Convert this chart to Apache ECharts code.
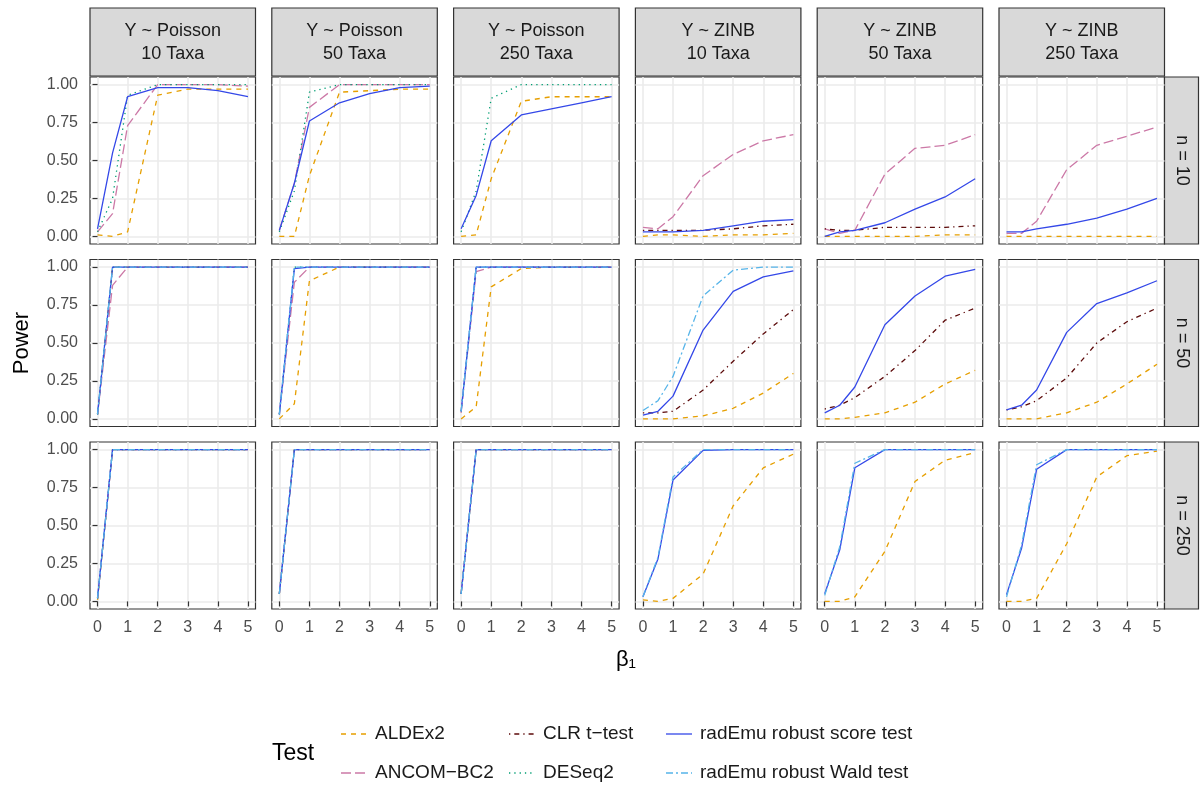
<!DOCTYPE html>
<html>
<head>
<meta charset="utf-8">
<script src="https://cdn.jsdelivr.net/npm/echarts@6/dist/echarts.min.js"></script>
<style>
  html, body { margin: 0; padding: 0; background: #fff; }
  #main { width: 1202px; height: 785px; }
</style>
</head>
<body>
<div id="main"></div>
<script>
// 横轴取值 β1
const betas = [0, 0.5, 1, 2, 3, 4, 5]
const xTicks = [0, 1, 2, 3, 4, 5]
const yTicks = [0, 0.25, 0.5, 0.75, 1]
const colLabels = ['Y ~ Poisson\n10 Taxa', 'Y ~ Poisson\n50 Taxa', 'Y ~ Poisson\n250 Taxa',
  'Y ~ ZINB\n10 Taxa', 'Y ~ ZINB\n50 Taxa', 'Y ~ ZINB\n250 Taxa']
const rowLabels = ['n = 10', 'n = 50', 'n = 250']
const methods = ['ALDEx2', 'ANCOM−BC2', 'CLR t−test', 'DESeq2',
  'radEmu robust score test', 'radEmu robust Wald test']

// 每个方法：[行 n=10,50,250][列 Poisson 10/50/250, ZINB 10/50/250]
const aldex2 = [
  [[0.01, 0, 0.03, 0.93, 0.97, 0.97, 0.97], [0, 0, 0.4, 0.95, 0.96, 0.97, 0.97], [0, 0.01, 0.38, 0.89, 0.92, 0.92, 0.92],
    [0, 0.01, 0.01, 0, 0.01, 0.01, 0.02], [0, 0, 0, 0, 0, 0.01, 0.01], [0, 0, 0, 0, 0, 0, 0]],
  [[0.03, 1, 1, 1, 1, 1, 1], [0, 0.1, 0.91, 1, 1, 1, 1], [0, 0.08, 0.87, 0.99, 1, 1, 1],
    [0, 0, 0, 0.02, 0.07, 0.17, 0.3], [0, 0, 0.01, 0.04, 0.11, 0.23, 0.32], [0, 0, 0, 0.04, 0.11, 0.23, 0.36]],
  [[0.01, 1, 1, 1, 1, 1, 1], [0.05, 1, 1, 1, 1, 1, 1], [0.05, 1, 1, 1, 1, 1, 1],
    [0.01, 0, 0.02, 0.18, 0.63, 0.88, 0.97], [0, 0, 0.03, 0.33, 0.79, 0.93, 0.98], [0, 0, 0.02, 0.38, 0.82, 0.96, 0.99]]
]
const ancom = [
  [[0.03, 0.15, 0.73, 1, 1, 1, 0.99], [0.04, 0.35, 0.85, 1, 1, 1, 1], null,
    [0.06, 0.05, 0.13, 0.4, 0.54, 0.63, 0.67], [0.05, 0.02, 0.04, 0.41, 0.58, 0.6, 0.67], [0.02, 0.02, 0.1, 0.44, 0.6, 0.66, 0.72]],
  [[0.03, 0.88, 1, 1, 1, 1, 1], [0.03, 0.9, 1, 1, 1, 1, 1], [0.04, 0.97, 1, 1, 1, 1, 1], null, null, null],
  [[0.02, 1, 1, 1, 1, 1, 1], [0.05, 1, 1, 1, 1, 1, 1], [0.05, 1, 1, 1, 1, 1, 1], null, null, null]
]
const clr = [
  [null, null, null, [0.04, 0.04, 0.04, 0.04, 0.05, 0.07, 0.08], [0.05, 0.04, 0.04, 0.06, 0.06, 0.06, 0.07], null],
  [null, null, null, [0.04, 0.04, 0.05, 0.19, 0.38, 0.56, 0.72], [0.065, 0.09, 0.14, 0.28, 0.45, 0.65, 0.73], [0.06, 0.08, 0.12, 0.27, 0.5, 0.64, 0.73]],
  [null, null, null, null, null, null]
]
const deseq2 = [
  [[0.03, 0.25, 0.93, 1, 1, 1, 1], [0.03, 0.3, 0.95, 1, 1, 1, 1], [0.03, 0.3, 0.91, 1, 1, 1, 1], null, null, null],
  [[0.03, 1, 1, 1, 1, 1, 1], [0.03, 1, 1, 1, 1, 1, 1], [0.05, 1, 1, 1, 1, 1, 1], null, null, null],
  [[0.02, 1, 1, 1, 1, 1, 1], [0.05, 1, 1, 1, 1, 1, 1], [0.05, 1, 1, 1, 1, 1, 1], null, null, null]
]
const scoreTest = [
  [[0.05, 0.55, 0.92, 0.98, 0.98, 0.96, 0.92], [0.04, 0.35, 0.76, 0.88, 0.94, 0.98, 0.99], [0.05, 0.27, 0.63, 0.8, 0.84, 0.88, 0.92],
    [0.03, 0.03, 0.03, 0.04, 0.07, 0.1, 0.11], [0, 0.03, 0.04, 0.09, 0.18, 0.26, 0.38], [0.03, 0.03, 0.05, 0.08, 0.12, 0.18, 0.25]],
  [[0.03, 1, 1, 1, 1, 1, 1], [0.03, 0.99, 1, 1, 1, 1, 1], [0.05, 1, 1, 1, 1, 1, 1],
    [0.025, 0.05, 0.15, 0.585, 0.84, 0.935, 0.975], [0.04, 0.09, 0.21, 0.62, 0.81, 0.94, 0.985], [0.06, 0.09, 0.19, 0.57, 0.76, 0.83, 0.91]],
  [[0.02, 1, 1, 1, 1, 1, 1], [0.05, 1, 1, 1, 1, 1, 1], [0.05, 1, 1, 1, 1, 1, 1],
    [0.03, 0.28, 0.8, 0.995, 1, 1, 1], [0.05, 0.34, 0.88, 1, 1, 1, 1], [0.045, 0.35, 0.87, 1, 1, 1, 1]]
]
const waldTest = [
  [null, null, null, null, null, null],
  [[0.03, 1, 1, 1, 1, 1, 1], [0.03, 1, 1, 1, 1, 1, 1], [0.05, 1, 1, 1, 1, 1, 1],
    [0.055, 0.12, 0.28, 0.81, 0.98, 1, 1], null, null],
  [[0.02, 1, 1, 1, 1, 1, 1], [0.05, 1, 1, 1, 1, 1, 1], [0.05, 1, 1, 1, 1, 1, 1],
    [0.03, 0.29, 0.82, 1, 1, 1, 1], [0.04, 0.36, 0.91, 1, 1, 1, 1], [0.03, 0.37, 0.9, 1, 1, 1, 1]]
]

const methodData = [aldex2, ancom, clr, deseq2, scoreTest, waldTest]
const methodColors = ['#E69F00', '#CC79A7', '#5c0a0a', '#009E73', '#3448E8', '#56B4E9']
const methodDash = [[5, 5], [10, 4], [1.3, 4, 5, 4], [1.3, 4], 'solid', [7, 3, 2, 3]]

const font = 'Liberation Sans, Arial, sans-serif'
const panelLeft = 90
const panelTop = 77
const panelW = 165.5
const panelH = 167
const pitchX = 181.8
const pitchY = 182.5

const grids = []
const xAxes = []
const yAxes = []
const series = []
const graphics = []

for (let r = 0; r < 3; r++) {
  for (let c = 0; c < 6; c++) {
    const g = r * 6 + c
    const left = panelLeft + c * pitchX
    const top = panelTop + r * pitchY
    grids.push({
      left: left, top: top, width: panelW, height: panelH,
      show: true, backgroundColor: '#fff', borderColor: '#333', borderWidth: 1.2
    })
    xAxes.push({
      gridIndex: g, type: 'value', min: -0.25, max: 5.25,
      axisLine: { show: false },
      axisTick: { show: r === 2, length: 5, customValues: xTicks, lineStyle: { color: '#333', width: 1.2 } },
      axisLabel: { show: r === 2, customValues: xTicks, margin: 11, fontSize: 16, color: '#4d4d4d', fontFamily: font },
      splitLine: { show: true, lineStyle: { color: '#ebebeb', width: 1.6 } }
    })
    yAxes.push({
      gridIndex: g, type: 'value', min: -0.05, max: 1.05,
      axisLine: { show: false },
      axisTick: { show: c === 0, length: 5, customValues: yTicks, lineStyle: { color: '#333', width: 1.2 } },
      axisLabel: {
        show: c === 0, customValues: yTicks, margin: 12, fontSize: 16, color: '#4d4d4d', fontFamily: font,
        formatter: v => v.toFixed(2)
      },
      splitLine: { show: true, lineStyle: { color: '#ebebeb', width: 1.6 } }
    })
    methodData.forEach((d, m) => {
      const vals = d[r][c]
      if (!vals) return
      series.push({
        type: 'line', name: methods[m], xAxisIndex: g, yAxisIndex: g,
        data: betas.map((b, i) => [b, vals[i]]),
        symbol: 'none', showSymbol: false, animation: false, z: 2 + m,
        itemStyle: { color: methodColors[m] },
        lineStyle: { color: methodColors[m], width: 1.3, type: methodDash[m] }
      })
    })
  }
}

// 上方分面标签
colLabels.forEach((txt, c) => {
  const left = panelLeft + c * pitchX
  graphics.push({
    type: 'rect', shape: { x: left, y: 8, width: panelW, height: 68 },
    style: { fill: '#d9d9d9', stroke: '#333', lineWidth: 1.2 }
  })
  graphics.push({
    type: 'text', x: left + panelW / 2, y: 43,
    style: { text: txt, fontSize: 18, fontFamily: font, fill: '#1a1a1a', align: 'center', verticalAlign: 'middle', lineHeight: 23 }
  })
})
// 右侧分面标签
rowLabels.forEach((txt, r) => {
  const top = panelTop + r * pitchY
  const x0 = panelLeft + 5 * pitchX + panelW
  graphics.push({
    type: 'rect', shape: { x: x0, y: top, width: 34, height: panelH },
    style: { fill: '#d9d9d9', stroke: '#333', lineWidth: 1.2 }
  })
  graphics.push({
    type: 'text', x: x0 + 17, y: top + panelH / 2, rotation: -Math.PI / 2,
    style: { text: txt, fontSize: 18, fontFamily: font, fill: '#1a1a1a', align: 'center', verticalAlign: 'middle' }
  })
})
graphics.push({
  type: 'text', x: 22, y: 343, rotation: Math.PI / 2,
  style: { text: 'Power', fontSize: 22, fontFamily: font, fill: '#000', align: 'center', verticalAlign: 'middle' }
})
graphics.push({
  type: 'text', x: 626, y: 660,
  style: { text: 'β₁', fontSize: 22, fontFamily: font, fill: '#000', align: 'center', verticalAlign: 'middle' }
})
graphics.push({
  type: 'text', x: 272, y: 754,
  style: { text: 'Test', fontSize: 23, fontFamily: font, fill: '#000', align: 'left', verticalAlign: 'middle' }
})

// 图例：三列两行，按列排列
const legendTextX = [375, 543, 700]
const legendRowY = [734, 773]
methods.forEach((name, m) => {
  const col = Math.floor(m / 2)
  const y = legendRowY[m % 2]
  const tx = legendTextX[col]
  const dash = methodDash[m] === 'solid' ? null : methodDash[m]
  graphics.push({
    type: 'line', shape: { x1: tx - 34, y1: y, x2: tx - 8, y2: y },
    style: { stroke: methodColors[m], lineWidth: 1.3, lineDash: dash }
  })
  graphics.push({
    type: 'text', x: tx, y: y,
    style: { text: name, fontSize: 19, fontFamily: font, fill: '#1a1a1a', align: 'left', verticalAlign: 'middle' }
  })
})

const chart = echarts.init(document.getElementById('main'))
chart.setOption({
  backgroundColor: '#fff',
  animation: false,
  grid: grids,
  xAxis: xAxes,
  yAxis: yAxes,
  graphic: graphics,
  series: series
})
</script>
</body>
</html>
